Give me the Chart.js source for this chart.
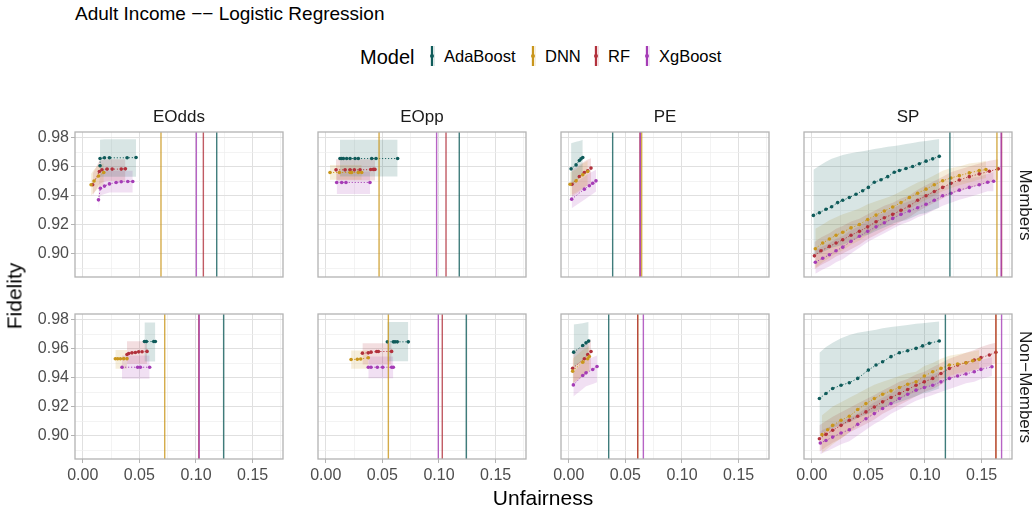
<!DOCTYPE html>
<html>
<head>
<meta charset="utf-8">
<title>Adult Income -- Logistic Regression</title>
<script src="https://cdn.jsdelivr.net/npm/chart.js"></script>
<style>
  body { margin: 0; background: #fff; width: 1035px; height: 508px; position: relative; overflow: hidden;
         font-family: "Liberation Sans", Arial, sans-serif; }
  canvas { position: absolute; }
  .lbl { position: absolute; white-space: nowrap; line-height: 1; color: #000; }
  .key { position: absolute; width: 5px; height: 20px; }
</style>
</head>
<body>
<script>
// categories
const MODELS = ['AdaBoost', 'DNN', 'RF', 'XgBoost'];
const COLORS = ['#0f5b5a', '#c9961c', '#b2313c', '#a53cb6'];
const METRICS = ['EOdds', 'EOpp', 'PE', 'SP'];
const GROUPS = ['Members', 'Non\u2212Members'];

// axis ticks
const X_TICKS = [0, 0.025, 0.05, 0.075, 0.1, 0.125, 0.15, 0.175];
const X_TICK_LABELS = ['0.00', '', '0.05', '', '0.10', '', '0.15', ''];
const Y_TICKS = [0.89, 0.90, 0.91, 0.92, 0.93, 0.94, 0.95, 0.96, 0.97, 0.98];
const Y_TICK_LABELS = ['', '0.90', '', '0.92', '', '0.94', '', '0.96', '', '0.98'];

// series rows: [unfairness, fidelity, ribbon low, ribbon high]
const EODDS_M_ADA = [[0.0153,0.9605,0.953,0.9785],[0.0153,0.9655,0.953,0.9785],[0.0192,0.9660,0.953,0.9788],[0.0236,0.9660,0.953,0.9788],[0.0392,0.9660,0.953,0.9788],[0.0471,0.9662,0.953,0.9788]];
const EODDS_M_DNN = [[0.0074,0.9474,0.940,0.955],[0.0100,0.9500,0.942,0.958],[0.0140,0.9535,0.945,0.961],[0.0186,0.9559,0.948,0.962]];
const EODDS_M_RF  = [[0.0088,0.9474,0.940,0.955],[0.0147,0.9566,0.948,0.964],[0.0170,0.9578,0.949,0.9645],[0.0215,0.9582,0.950,0.965],[0.0260,0.9582,0.950,0.965],[0.0340,0.9582,0.950,0.965],[0.0377,0.9584,0.950,0.965]];
const EODDS_M_XG  = [[0.0139,0.9370,0.930,0.946],[0.0156,0.9450,0.940,0.955],[0.0192,0.9465,0.941,0.957],[0.0236,0.9480,0.942,0.957],[0.0295,0.9490,0.942,0.957],[0.0340,0.9495,0.942,0.957],[0.0398,0.9497,0.942,0.957],[0.0442,0.9497,0.942,0.957]];
const VL_EODDS_M  = [0.1183, 0.0691, 0.1065, 0.1003];

const EODDS_N_ADA = [[0.0545,0.9648,0.951,0.978],[0.0562,0.9648,0.951,0.978],[0.0627,0.9648,0.951,0.978],[0.0641,0.9648,0.951,0.978]];
const EODDS_N_DNN = [[0.0288,0.9529,0.946,0.959],[0.0309,0.9529,0.946,0.959],[0.0333,0.9529,0.946,0.959],[0.0362,0.9530,0.946,0.959],[0.0391,0.9530,0.946,0.959]];
const EODDS_N_RF  = [[0.0391,0.9559,0.9494,0.965],[0.0406,0.9566,0.9494,0.965],[0.0435,0.9570,0.9494,0.965],[0.0465,0.9573,0.9494,0.965],[0.0494,0.9577,0.9494,0.965],[0.0524,0.9578,0.9494,0.965],[0.0568,0.9580,0.9494,0.965]];
const EODDS_N_XG  = [[0.0347,0.9471,0.9391,0.9552],[0.0485,0.9471,0.9391,0.9552],[0.0509,0.9471,0.9391,0.9552],[0.0591,0.9471,0.9391,0.9552]];
const VL_EODDS_N  = [0.1244, 0.0724, 0.1025, 0.1028];

const EOPP_M_ADA = [[0.0126,0.9655,0.9531,0.9784],[0.0141,0.9655,0.9531,0.9784],[0.0156,0.9655,0.9531,0.9784],[0.0185,0.9655,0.9531,0.9784],[0.0215,0.9655,0.9531,0.9784],[0.0259,0.9655,0.9531,0.9784],[0.0288,0.9655,0.9531,0.9784],[0.0406,0.9655,0.9531,0.9784],[0.0444,0.9655,0.9531,0.9784],[0.0635,0.9655,0.9531,0.9784]];
const EOPP_M_DNN = [[0.0038,0.9559,0.9508,0.9611],[0.0121,0.9559,0.9508,0.9611],[0.0215,0.9559,0.9508,0.9611],[0.0229,0.9559,0.9508,0.9611],[0.0288,0.9559,0.9508,0.9611],[0.0318,0.9559,0.9508,0.9611]];
const EOPP_M_RF  = [[0.0091,0.9577,0.9503,0.965],[0.0171,0.9577,0.9503,0.965],[0.0215,0.9577,0.9503,0.965],[0.0253,0.9577,0.9503,0.965],[0.0303,0.9577,0.9503,0.965],[0.0397,0.9579,0.9503,0.965],[0.0421,0.9580,0.9503,0.965],[0.0435,0.9580,0.9503,0.965]];
const EOPP_M_XG  = [[0.0097,0.9490,0.9411,0.9566],[0.0141,0.9490,0.9411,0.9566],[0.0179,0.9490,0.9411,0.9566],[0.0391,0.9490,0.9411,0.9566]];
const VL_EOPP_M  = [0.1179, 0.0471, 0.1062, 0.0979];

const EOPP_N_ADA = [[0.0544,0.9646,0.9513,0.9782],[0.0597,0.9646,0.9513,0.9782],[0.0612,0.9646,0.9513,0.9782],[0.0632,0.9646,0.9513,0.9782],[0.0729,0.9646,0.9513,0.9782]];
const EOPP_N_DNN = [[0.0224,0.9524,0.946,0.9586],[0.0279,0.9526,0.946,0.9586],[0.0309,0.9528,0.946,0.9586],[0.0376,0.9536,0.946,0.9586]];
const EOPP_N_RF  = [[0.0324,0.9568,0.949,0.9637],[0.0376,0.9570,0.949,0.9637],[0.0400,0.9575,0.949,0.9637],[0.0450,0.9579,0.949,0.9637],[0.0465,0.9579,0.949,0.9637],[0.0582,0.9580,0.949,0.9637]];
const EOPP_N_XG  = [[0.0376,0.9471,0.9395,0.9545],[0.0400,0.9471,0.9395,0.9545],[0.0456,0.9471,0.9395,0.9545],[0.0503,0.9471,0.9395,0.9545],[0.0582,0.9471,0.9395,0.9545],[0.0597,0.9471,0.9395,0.9545]];
const VL_EOPP_N  = [0.1241, 0.0553, 0.1029, 0.0994];

const PE_M_ADA = [[0.0021,0.9584,0.946,0.9761],[0.0065,0.9611,0.949,0.977],[0.0094,0.9641,0.952,0.9776],[0.0109,0.9653,0.954,0.978],[0.0124,0.9662,0.9555,0.9784]];
const PE_M_DNN = [[0.0012,0.9478,0.940,0.956],[0.0065,0.9501,0.942,0.958],[0.0124,0.9543,0.945,0.962],[0.0168,0.9566,0.947,0.964]];
const PE_M_RF  = [[0.0029,0.9478,0.9393,0.9577],[0.0094,0.9531,0.9425,0.961],[0.0138,0.9559,0.9455,0.9635],[0.0168,0.9570,0.947,0.9648],[0.0197,0.9589,0.9485,0.9657]];
const PE_M_XG  = [[0.0026,0.9375,0.9313,0.9474],[0.0138,0.9444,0.937,0.953],[0.0182,0.9467,0.9395,0.9555],[0.0212,0.9485,0.941,0.9565],[0.0241,0.9501,0.9428,0.9577]];
const VL_PE_M  = [0.0388, 0.0644, 0.0629, 0.0632];

const PE_N_ADA = [[0.0044,0.9575,0.947,0.9766],[0.0124,0.9621,0.952,0.9775],[0.0153,0.9639,0.954,0.978],[0.0176,0.9651,0.9563,0.9782]];
const PE_N_DNN = [[0.0035,0.9444,0.936,0.953],[0.0124,0.9506,0.941,0.959],[0.0168,0.9529,0.943,0.961],[0.0182,0.9545,0.944,0.962]];
const PE_N_RF  = [[0.0035,0.9464,0.9356,0.9575],[0.0138,0.9529,0.942,0.962],[0.0168,0.9559,0.944,0.9645],[0.0197,0.9579,0.946,0.9667]];
const PE_N_XG  = [[0.0041,0.9349,0.9269,0.9437],[0.0124,0.9414,0.932,0.950],[0.0153,0.9432,0.934,0.952],[0.0212,0.9455,0.9355,0.954],[0.0250,0.9476,0.9368,0.9552]];
const VL_PE_N  = [0.0353, 0.0609, 0.0609, 0.0659];

const SP_M_ADA = [[0.0015,0.9263,0.899,0.9577],[0.0068,0.9281,0.900,0.9605],[0.0126,0.9305,0.902,0.9632],[0.0176,0.9323,0.904,0.9653],[0.0229,0.9351,0.905,0.9668],[0.0274,0.9367,0.906,0.9680],[0.0332,0.9386,0.908,0.9690],[0.0391,0.9409,0.910,0.9698],[0.0450,0.9433,0.912,0.9706],[0.0500,0.9456,0.913,0.9712],[0.0553,0.9491,0.915,0.9720],[0.0612,0.9509,0.917,0.9728],[0.0671,0.9530,0.919,0.9736],[0.0729,0.9560,0.921,0.9742],[0.0774,0.9572,0.922,0.9747],[0.0832,0.9586,0.923,0.9755],[0.0891,0.9600,0.925,0.9763],[0.0950,0.9619,0.927,0.9770],[0.1009,0.9637,0.928,0.9776],[0.1068,0.9653,0.930,0.9783],[0.1126,0.9670,0.9316,0.9790]];
const SP_M_DNN = [[0.0032,0.9033,0.890,0.917],[0.0097,0.9072,0.894,0.920],[0.0156,0.9100,0.897,0.923],[0.0215,0.9126,0.900,0.925],[0.0274,0.9147,0.902,0.927],[0.0347,0.9177,0.906,0.929],[0.0421,0.9200,0.909,0.931],[0.0494,0.9235,0.913,0.934],[0.0568,0.9265,0.917,0.936],[0.0641,0.9293,0.920,0.938],[0.0715,0.9321,0.924,0.940],[0.0788,0.9351,0.927,0.943],[0.0862,0.9386,0.931,0.946],[0.0935,0.9416,0.934,0.949],[0.1009,0.9444,0.937,0.951],[0.1082,0.9474,0.940,0.954],[0.1156,0.9502,0.943,0.957],[0.1229,0.9521,0.945,0.959],[0.1303,0.9537,0.947,0.960],[0.1391,0.9556,0.949,0.962],[0.1479,0.9572,0.951,0.963],[0.1538,0.9579,0.952,0.964]];
const SP_M_RF  = [[0.0024,0.8984,0.889,0.908],[0.0082,0.9019,0.892,0.911],[0.0156,0.9049,0.895,0.914],[0.0215,0.9072,0.898,0.917],[0.0274,0.9095,0.900,0.919],[0.0347,0.9126,0.903,0.922],[0.0421,0.9153,0.906,0.924],[0.0494,0.9184,0.910,0.927],[0.0568,0.9219,0.913,0.930],[0.0641,0.9247,0.916,0.933],[0.0715,0.9270,0.919,0.935],[0.0788,0.9298,0.922,0.938],[0.0862,0.9328,0.925,0.940],[0.0935,0.9367,0.929,0.944],[0.1009,0.9398,0.932,0.947],[0.1082,0.9428,0.935,0.950],[0.1156,0.9456,0.938,0.953],[0.1229,0.9484,0.941,0.956],[0.1303,0.9507,0.943,0.958],[0.1391,0.9530,0.945,0.960],[0.1479,0.9549,0.947,0.962],[0.1568,0.9567,0.949,0.964],[0.1647,0.9584,0.951,0.965]];
const SP_M_XG  = [[0.0032,0.8940,0.886,0.902],[0.0097,0.8967,0.889,0.905],[0.0156,0.8991,0.891,0.907],[0.0215,0.9019,0.894,0.910],[0.0274,0.9044,0.896,0.912],[0.0347,0.9084,0.900,0.916],[0.0421,0.9119,0.904,0.919],[0.0494,0.9153,0.908,0.923],[0.0568,0.9184,0.911,0.926],[0.0641,0.9212,0.914,0.928],[0.0715,0.9242,0.917,0.931],[0.0788,0.9270,0.920,0.934],[0.0862,0.9293,0.922,0.936],[0.0935,0.9316,0.925,0.938],[0.1009,0.9340,0.927,0.941],[0.1082,0.9367,0.930,0.943],[0.1156,0.9398,0.933,0.946],[0.1229,0.9416,0.935,0.948],[0.1303,0.9437,0.937,0.950],[0.1391,0.9456,0.939,0.952],[0.1479,0.9474,0.941,0.953],[0.1553,0.9491,0.943,0.955],[0.1606,0.9498,0.943,0.956]];
const VL_SP_M  = [0.1220, 0.1635, 0.1676, 0.1672];

const SP_N_ADA = [[0.0068,0.9255,0.901,0.9571],[0.0126,0.9290,0.903,0.9610],[0.0185,0.9324,0.905,0.9640],[0.0259,0.9347,0.907,0.9670],[0.0332,0.9364,0.909,0.9694],[0.0406,0.9394,0.912,0.9708],[0.0500,0.9451,0.915,0.9720],[0.0568,0.9486,0.917,0.9730],[0.0626,0.9509,0.919,0.9740],[0.0700,0.9544,0.921,0.9748],[0.0774,0.9571,0.923,0.9755],[0.0847,0.9585,0.925,0.9763],[0.0921,0.9601,0.927,0.9770],[0.0979,0.9618,0.929,0.9775],[0.1038,0.9636,0.930,0.9780],[0.1126,0.9652,0.9324,0.9786]];
const SP_N_DNN = [[0.0091,0.9006,0.888,0.914],[0.0141,0.9040,0.891,0.917],[0.0185,0.9070,0.894,0.920],[0.0259,0.9105,0.898,0.923],[0.0332,0.9133,0.902,0.926],[0.0406,0.9179,0.907,0.929],[0.0479,0.9220,0.911,0.932],[0.0553,0.9255,0.915,0.935],[0.0626,0.9285,0.919,0.937],[0.0700,0.9308,0.922,0.939],[0.0774,0.9331,0.925,0.941],[0.0847,0.9354,0.928,0.943],[0.0921,0.9370,0.930,0.944],[0.0994,0.9410,0.933,0.948],[0.1068,0.9440,0.936,0.950],[0.1141,0.9463,0.939,0.953],[0.1215,0.9486,0.941,0.955],[0.1288,0.9493,0.943,0.956],[0.1362,0.9502,0.944,0.957],[0.1421,0.9516,0.945,0.958],[0.1479,0.9525,0.946,0.959]];
const SP_N_RF  = [[0.0068,0.8978,0.889,0.907],[0.0126,0.9008,0.892,0.910],[0.0185,0.9036,0.895,0.913],[0.0259,0.9070,0.898,0.916],[0.0332,0.9105,0.902,0.919],[0.0406,0.9133,0.905,0.922],[0.0479,0.9163,0.908,0.925],[0.0553,0.9197,0.911,0.928],[0.0626,0.9232,0.915,0.931],[0.0700,0.9262,0.918,0.934],[0.0774,0.9290,0.921,0.937],[0.0847,0.9317,0.924,0.939],[0.0921,0.9347,0.927,0.942],[0.0994,0.9370,0.930,0.944],[0.1068,0.9394,0.932,0.947],[0.1141,0.9428,0.935,0.950],[0.1215,0.9463,0.939,0.953],[0.1288,0.9486,0.941,0.955],[0.1362,0.9502,0.943,0.957],[0.1435,0.9521,0.945,0.959],[0.1494,0.9537,0.946,0.961],[0.1568,0.9555,0.948,0.963],[0.1626,0.9574,0.950,0.964]];
const SP_N_XG  = [[0.0076,0.8948,0.887,0.903],[0.0126,0.8966,0.889,0.905],[0.0185,0.8989,0.891,0.907],[0.0259,0.9017,0.894,0.910],[0.0332,0.9040,0.896,0.912],[0.0406,0.9077,0.900,0.915],[0.0479,0.9116,0.904,0.919],[0.0553,0.9151,0.908,0.923],[0.0626,0.9186,0.911,0.926],[0.0700,0.9220,0.915,0.929],[0.0774,0.9255,0.918,0.933],[0.0847,0.9285,0.921,0.936],[0.0921,0.9313,0.924,0.938],[0.0994,0.9331,0.926,0.940],[0.1068,0.9347,0.928,0.942],[0.1141,0.9370,0.930,0.944],[0.1215,0.9394,0.932,0.946],[0.1288,0.9410,0.934,0.948],[0.1362,0.9424,0.936,0.949],[0.1435,0.9440,0.937,0.951],[0.1494,0.9456,0.939,0.952],[0.1591,0.9474,0.941,0.954]];
const VL_SP_N  = [0.1180, 0.1626, 0.1626, 0.1676];

// layout
const XMIN = -0.0068, XMAX = 0.1768, YMIN = 0.8838, YMAX = 0.9838;
const COL_X = [75, 318, 561, 804], PW = 208;
const ROW_Y = [132, 314], PH = 145;

const PANELS = [
  [[[EODDS_M_ADA, EODDS_M_DNN, EODDS_M_RF, EODDS_M_XG], VL_EODDS_M],
   [[EOPP_M_ADA, EOPP_M_DNN, EOPP_M_RF, EOPP_M_XG], VL_EOPP_M],
   [[PE_M_ADA, PE_M_DNN, PE_M_RF, PE_M_XG], VL_PE_M],
   [[SP_M_ADA, SP_M_DNN, SP_M_RF, SP_M_XG], VL_SP_M]],
  [[[EODDS_N_ADA, EODDS_N_DNN, EODDS_N_RF, EODDS_N_XG], VL_EODDS_N],
   [[EOPP_N_ADA, EOPP_N_DNN, EOPP_N_RF, EOPP_N_XG], VL_EOPP_N],
   [[PE_N_ADA, PE_N_DNN, PE_N_RF, PE_N_XG], VL_PE_N],
   [[SP_N_ADA, SP_N_DNN, SP_N_RF, SP_N_XG], VL_SP_N]]
];

function rgba(hex, a) {
  const n = parseInt(hex.slice(1), 16);
  return 'rgba(' + (n >> 16) + ',' + ((n >> 8) & 255) + ',' + (n & 255) + ',' + a + ')';
}

function addText(txt, x, y, size, opts) {
  opts = opts || {};
  const d = document.createElement('div');
  d.className = 'lbl';
  d.textContent = txt;
  d.style.fontSize = size + 'px';
  d.style.left = x + 'px';
  d.style.top = y + 'px';
  if (opts.color) d.style.color = opts.color;
  let tf = '';
  if (opts.center) tf += 'translate(-50%,-50%) ';
  if (opts.rotate) tf += 'rotate(' + opts.rotate + 'deg)';
  if (tf) d.style.transform = tf;
  document.body.appendChild(d);
  return d;
}

const tickFont = { family: 'Liberation Sans', size: 16 };
const isMajorX = v => X_TICK_LABELS[X_TICKS.findIndex(t => Math.abs(t - v) < 1e-9)] !== '';
const isMajorY = v => Y_TICK_LABELS[Y_TICKS.findIndex(t => Math.abs(t - v) < 1e-9)] !== '';

const panelPlugin = {
  id: 'panelDeco',
  afterDatasetsDraw(chart) {
    const { ctx, chartArea: a, scales } = chart;
    const vl = chart.options.plugins.panelDeco.vlines;
    ctx.save();
    ctx.beginPath();
    ctx.rect(a.left, a.top, a.right - a.left, a.bottom - a.top);
    ctx.clip();
    vl.forEach((v, m) => {
      const x = scales.x.getPixelForValue(v);
      ctx.strokeStyle = rgba(COLORS[m], 0.8);
      ctx.lineWidth = 1.4;
      ctx.beginPath();
      ctx.moveTo(x, a.top);
      ctx.lineTo(x, a.bottom);
      ctx.stroke();
    });
    ctx.restore();
    ctx.save();
    ctx.strokeStyle = '#b3b3b3';
    ctx.lineWidth = 1.3;
    ctx.strokeRect(a.left, a.top, a.right - a.left, a.bottom - a.top);
    ctx.restore();
  }
};

function makePanel(r, c) {
  const [series, vlines] = PANELS[r][c];
  const leftW = c === 0 ? 50 : 20, pad = 14, bottomH = r === 1 ? 32 : 0;
  const cv = document.createElement('canvas');
  cv.width = PW + leftW + pad;
  cv.height = PH + pad + (r === 1 ? bottomH : pad);
  cv.style.left = (COL_X[c] - leftW) + 'px';
  cv.style.top = (ROW_Y[r] - pad) + 'px';
  document.body.appendChild(cv);

  const datasets = [];
  series.forEach((rows, m) => {
    datasets.push({
      data: rows.map(p => ({ x: p[0], y: p[3] })),
      borderColor: 'rgba(0,0,0,0)', borderWidth: 1, pointRadius: 0, fill: false, order: 2
    });
    datasets.push({
      data: rows.map(p => ({ x: p[0], y: p[2] })),
      borderColor: 'rgba(0,0,0,0)', borderWidth: 1, pointRadius: 0,
      fill: '-1', backgroundColor: rgba(COLORS[m], 0.16), order: 2
    });
  });
  series.forEach((rows, m) => {
    datasets.push({
      data: rows.map(p => ({ x: p[0], y: p[1] })),
      borderColor: COLORS[m], borderWidth: 0.9, borderDash: [1.2, 1.8],
      pointRadius: 1.8, pointBackgroundColor: COLORS[m], pointBorderWidth: 0,
      fill: false, order: 1
    });
  });

  const showX = r === 1, showY = c === 0;
  new Chart(cv, {
    type: 'line',
    data: { datasets },
    plugins: [panelPlugin],
    options: {
      responsive: false, animation: false, events: [],
      layout: { padding: { top: pad, right: pad, bottom: r === 1 ? 0 : pad, left: 0 } },
      plugins: { legend: { display: false }, tooltip: { enabled: false }, panelDeco: { vlines } },
      scales: {
        x: {
          type: 'linear', min: XMIN, max: XMAX,
          afterBuildTicks: s => { s.ticks = X_TICKS.map(v => ({ value: v })); },
          afterFit: s => { s.height = bottomH; },
          border: { display: false },
          grid: {
            drawTicks: showX, tickLength: 4,
            color: ctx => isMajorX(ctx.tick.value) ? '#e0e0e0' : '#eeeeee',
            lineWidth: ctx => isMajorX(ctx.tick.value) ? 1 : 0.7,
            tickColor: ctx => isMajorX(ctx.tick.value) ? '#b3b3b3' : 'rgba(0,0,0,0)'
          },
          ticks: {
            display: showX, autoSkip: false, maxRotation: 0, padding: 3,
            font: tickFont, color: '#4d4d4d',
            callback: (v, i) => X_TICK_LABELS[i]
          }
        },
        y: {
          type: 'linear', min: YMIN, max: YMAX,
          afterBuildTicks: s => { s.ticks = Y_TICKS.map(v => ({ value: v })); },
          afterFit: s => { s.width = leftW; },
          border: { display: false },
          grid: {
            drawTicks: showY, tickLength: 4,
            color: ctx => isMajorY(ctx.tick.value) ? '#e0e0e0' : '#eeeeee',
            lineWidth: ctx => isMajorY(ctx.tick.value) ? 1 : 0.7,
            tickColor: ctx => isMajorY(ctx.tick.value) ? '#b3b3b3' : 'rgba(0,0,0,0)'
          },
          ticks: {
            display: showY, autoSkip: false, padding: 2,
            font: tickFont, color: '#4d4d4d',
            callback: (v, i) => Y_TICK_LABELS[i]
          }
        }
      }
    }
  });
}

for (let r = 0; r < 2; r++) for (let c = 0; c < 4; c++) makePanel(r, c);

// strip labels
METRICS.forEach((m, c) => addText(m, COL_X[c] + PW / 2, 116, 17, { center: true, color: '#1a1a1a' }));
GROUPS.forEach((g, r) => addText(g, 1025, ROW_Y[r] + PH / 2, 17, { center: true, rotate: 90, color: '#1a1a1a' }));

// axis titles and title
addText('Fidelity', 14, 296, 21, { center: true, rotate: -90 });
addText('Unfairness', 543, 497, 21, { center: true });
addText('Adult Income \u2212\u2212 Logistic Regression', 75, 4, 19);

// legend
addText('Model', 360, 47, 20);
const KEY_X = [432, 533, 596, 647];
MODELS.forEach((name, m) => {
  const k = document.createElement('div');
  k.className = 'key';
  k.style.left = (KEY_X[m] - 2.5) + 'px';
  k.style.top = '46px';
  k.style.background = rgba(COLORS[m], 0.15);
  k.innerHTML = '<div style="position:absolute;left:1.75px;top:0;width:1.5px;height:20px;background:' + COLORS[m] +
    '"></div><div style="position:absolute;left:0.5px;top:8px;width:4px;height:4px;border-radius:2px;background:' + COLORS[m] + '"></div>';
  document.body.appendChild(k);
  addText(name, KEY_X[m] + 12, 48, 16.5);
});
</script>
</body>
</html>
